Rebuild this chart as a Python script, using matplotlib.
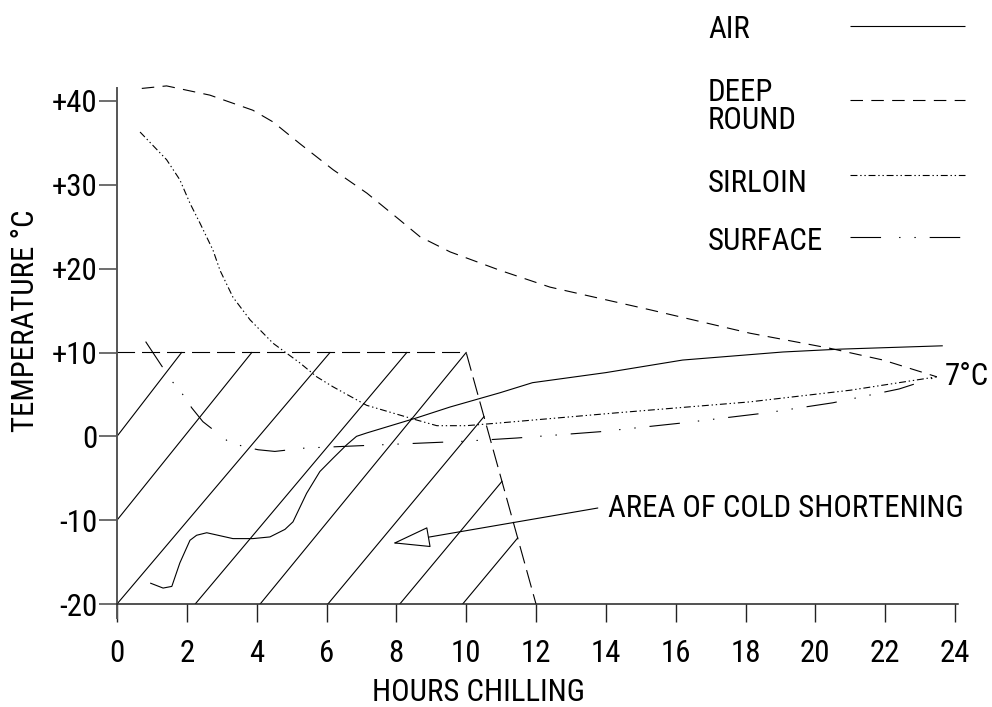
import math
import matplotlib
matplotlib.use("Agg")
import matplotlib.pyplot as plt
from matplotlib import font_manager
from matplotlib.font_manager import FontProperties
from matplotlib.textpath import TextPath

# ---------------- data ----------------
air_x = [0.95, 1.32, 1.57, 1.80, 2.09, 2.28, 2.57, 3.32, 3.89, 4.38, 4.81, 5.04, 5.43, 5.81,
         6.19, 6.58, 6.86, 7.15, 8.58, 9.54, 10.97, 11.9, 14.0, 16.2, 19.07, 20.7, 23.65]
air_y = [-17.5, -18.1, -17.9, -15.1, -12.4, -11.8, -11.5, -12.2, -12.2, -12.0, -11.1, -10.2, -6.8, -4.2,
         -2.6, -1.0, 0.0, 0.4, 2.2, 3.5, 5.2, 6.4, 7.6, 9.1, 10.06, 10.4, 10.8]

deep_x = [0.71, 1.42, 2.66, 3.89, 4.47, 5.24, 6.19, 7.16, 8.1, 8.68, 9.54, 10.97, 12.4,
          15.26, 18.13, 20.42, 21.94, 23.48]
deep_y = [41.5, 41.8, 40.7, 38.9, 37.5, 34.9, 31.8, 29.0, 25.8, 23.8, 22.0, 19.8, 17.8,
          15.1, 12.3, 10.5, 9.1, 7.1]

sirloin_x = [0.66, 1.42, 1.80, 2.09, 2.38, 2.75, 2.95, 3.32, 3.81, 4.47, 5.24, 5.72, 6.19,
             7.15, 8.58, 9.16, 10.0, 10.97, 14.3, 18.1, 21.0, 23.48]
sirloin_y = [36.3, 33.0, 30.6, 27.8, 25.4, 22.2, 19.8, 16.6, 13.9, 11.1, 8.75, 7.1, 5.9,
             3.7, 1.95, 1.27, 1.27, 1.6, 2.8, 4.1, 5.5, 7.1]

surface_x = [0.82, 1.55, 1.85, 2.14, 2.46, 3.18, 3.61, 4.04, 4.52, 5.38, 7.62, 9.88, 11.45,
             13.83, 16.2, 18.6, 20.5, 22.4, 23.48]
surface_y = [11.3, 6.7, 5.2, 3.4, 1.75, -0.6, -1.2, -1.6, -1.8, -1.4, -1.0, -0.6, -0.2,
             0.55, 1.6, 2.8, 4.0, 5.65, 7.1]

# cold-shortening region boundary (dashed) and hatch lines
zone_x = [0, 10, 12]
zone_y = [10, 10, -20]
hatch_x0 = [0, 0, 0, 2.24, 4.1, 6.04, 8.1, 9.9]
hatch_y0 = [0, -10, -20, -20, -20, -20, -20, -20]
hatch_x1 = [1.85, 3.86, 6.1, 8.3, 10.0, 10.51, 11.025, 11.475]
hatch_y1 = [10, 10, 10, 10, 10, 2.35, -5.375, -12.125]

arrow_tip = (7.90, -12.76)
arrow_tail = (13.77, -8.55)
area_label = "AREA OF COLD SHORTENING"
area_label_pos = (14.06, -9.62)
end_label = "7°C"
end_label_pos = (23.71, 6.12)

x_ticks = [0, 2, 4, 6, 8, 10, 12, 14, 16, 18, 20, 22, 24]
x_ticklabels = ["0", "2", "4", "6", "8", "10", "12", "14", "16", "18", "20", "22", "24"]
y_ticks = [-20, -10, 0, 10, 20, 30, 40]
y_ticklabels = ["-20", "-10", "0", "+10", "+20", "+30", "+40"]

series_labels = ["AIR", "DEEP\nROUND", "SIRLOIN", "SURFACE"]


# ---------------- font choice (narrow Arial-like face if installed) ----------------
def _is_regular(f):
    low = f.fname.lower()
    bad = ["bold", "italic", "oblique", "light", "thin", "medium", "black", "semibold",
           "extrabold", "heavy", "[", "variable"]
    return f.style == "normal" and not any(b in low for b in bad)


def pick_font():
    entries = font_manager.fontManager.ttflist
    prefs = ["Liberation Sans Narrow", "Arial Narrow", "Roboto Condensed",
             "Open Sans Condensed", "Noto Sans Condensed", "Noto Sans SemiCondensed",
             "Open Sans SemiCondensed"]
    for p in prefs:
        for f in entries:
            if f.name == p and _is_regular(f):
                return f.fname
    for fam in ["Liberation Sans", "Roboto", "Noto Sans", "Open Sans", "Inter", "Lato"]:
        for f in entries:
            low = f.fname.lower()
            if f.name == fam and _is_regular(f) and (
                    "narrow" in low or "condensed" in low
                    or str(f.stretch) in ("condensed", "semi-condensed", "extra-condensed")):
                if "extracondensed" in low.replace("-", "") or "extra-condensed" == str(f.stretch):
                    continue
                return f.fname
    return font_manager.findfont(FontProperties(family="Liberation Sans"))


FONT_PATH = pick_font()
_probe = FontProperties(fname=FONT_PATH, size=10)
_w10 = TextPath((0, 0), area_label, size=10, prop=_probe).get_extents().width * 100 / 72
_c10 = TextPath((0, 0), "H", size=10, prop=_probe).get_extents().height * 100 / 72
_size_w = 10 * 364 / _w10
_size_c = 10 * 21 / _c10
FS = (_size_w ** 0.6) * (_size_c ** 0.4)
FP = FontProperties(fname=FONT_PATH, size=FS)

plt.rcParams["lines.scale_dashes"] = False

LW = 0.8
styles = [
    dict(color="black", lw=LW, linestyle="-"),
    dict(color="black", lw=LW, linestyle=(0, (9, 6))),
    dict(color="black", lw=LW, linestyle=(0, (5, 2, 1, 2, 1, 2))),
    dict(color="black", lw=LW, linestyle=(0, (22, 13, 1, 10, 1, 10))),
]

W, H = 992, 707
fig = plt.figure(figsize=(W / 100, H / 100), dpi=100)
ax = fig.add_axes([117 / W, 1 - 604 / H, (955 - 117) / W, (604 - 101) / H])
ax.set_xlim(0, 24)
ax.set_ylim(-20, 40)
ax.patch.set_alpha(0)

for sx, sy, st in zip([air_x, deep_x, sirloin_x, surface_x],
                      [air_y, deep_y, sirloin_y, surface_y], styles):
    ax.plot(sx, sy, clip_on=False, solid_capstyle="butt", dash_capstyle="butt", **st)

ax.plot(zone_x, zone_y, color="black", lw=LW, linestyle=(0, (13, 5)), clip_on=False)
for x0, y0, x1, y1 in zip(hatch_x0, hatch_y0, hatch_x1, hatch_y1):
    ax.plot([x0, x1], [y0, y1], color="black", lw=LW)

ax.annotate("", xy=arrow_tip, xytext=arrow_tail,
            arrowprops=dict(arrowstyle="-|>,head_length=2.45,head_width=0.68",
                            mutation_scale=10, fc="white", ec="black", lw=LW,
                            shrinkA=0, shrinkB=0))
ax.text(*area_label_pos, area_label, fontproperties=FP, ha="left", va="baseline", clip_on=False)
ax.text(*end_label_pos, end_label, fontproperties=FP, ha="left", va="baseline", clip_on=False)

# axes
for s in ["top", "right"]:
    ax.spines[s].set_visible(False)
ax.spines["left"].set_bounds(-21.7, 41.55)
ax.spines["left"].set_color("#555555")
ax.spines["left"].set_linewidth(1.4)
ax.spines["bottom"].set_bounds(0, 24.1)
ax.spines["bottom"].set_color("#222222")
ax.spines["bottom"].set_linewidth(1.1)

ax.set_xticks(x_ticks)
ax.set_xticklabels(x_ticklabels)
ax.set_yticks(y_ticks)
ax.set_yticklabels(y_ticklabels)
ax.tick_params(axis="x", direction="out", length=13, width=1.0, pad=12,
               colors="#222222", labelcolor="black")
ax.tick_params(axis="y", direction="out", length=13, width=1.2, pad=1,
               colors="#555555", labelcolor="black")
for t in ax.get_xticklabels() + ax.get_yticklabels():
    t.set_fontproperties(FP)

fig.text(26 / W, 1 - 321 / H, "TEMPERATURE °C", rotation=90, fontproperties=FP,
         ha="center", va="center")
fig.text(479 / W, 1 - 701 / H, "HOURS CHILLING", fontproperties=FP, ha="center", va="baseline")

# legend drawn in pixel coordinates
lg = fig.add_axes([0, 0, 1, 1], zorder=-1)
lg.set_xlim(0, W)
lg.set_ylim(H, 0)
lg.axis("off")
leg_text_x = 708
leg_baselines = [[38], [101, 129], [191.5], [250]]
leg_line_y = [25.7, 100, 175, 237.3]
for lab, bases, ly, st in zip(series_labels, leg_baselines, leg_line_y, styles):
    for part, b in zip(lab.split("\n"), bases):
        lg.text(leg_text_x, b, part, fontproperties=FP, ha="left", va="baseline")
    lg.plot([850, 965], [ly, ly], solid_capstyle="butt", dash_capstyle="butt", **st)

fig.savefig("out.png", dpi=100)
